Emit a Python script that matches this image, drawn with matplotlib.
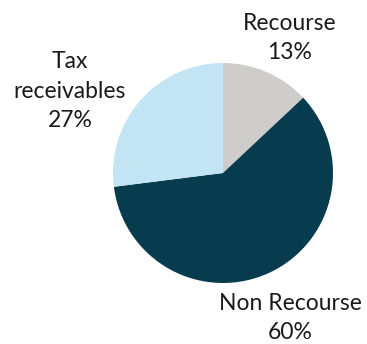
import matplotlib.pyplot as plt

# share of portfolio by category
labels = ["Recourse", "Non Recourse", "Tax\nreceivables"]
shares = [13, 60, 27]
colors = ["#CFCDCC", "#073B4E", "#C2E4F4"]

plt.rcParams["font.family"] = ["Lato", "DejaVu Sans"]

W, H = 367, 344
fig = plt.figure(figsize=(W / 100, H / 100), dpi=100)
ax = fig.add_axes([0, 0, 1, 1])

ax.pie(shares, colors=colors, startangle=90, counterclock=False,
       center=(223, H - 173), radius=110, frame=True)
ax.set_xlim(0, W)
ax.set_ylim(0, H)
ax.set_aspect("equal")
ax.axis("off")

# category labels with percentages
label_pos = [(290, 38), (290, 318), (70, 91)]
for lab, val, (x, y) in zip(labels, shares, label_pos):
    ax.text(x, H - y, f"{lab}\n{val}%", ha="center", va="center",
            fontsize=16.5, color="#1a1a1a", linespacing=1.5)

fig.savefig("out.png", dpi=100)
